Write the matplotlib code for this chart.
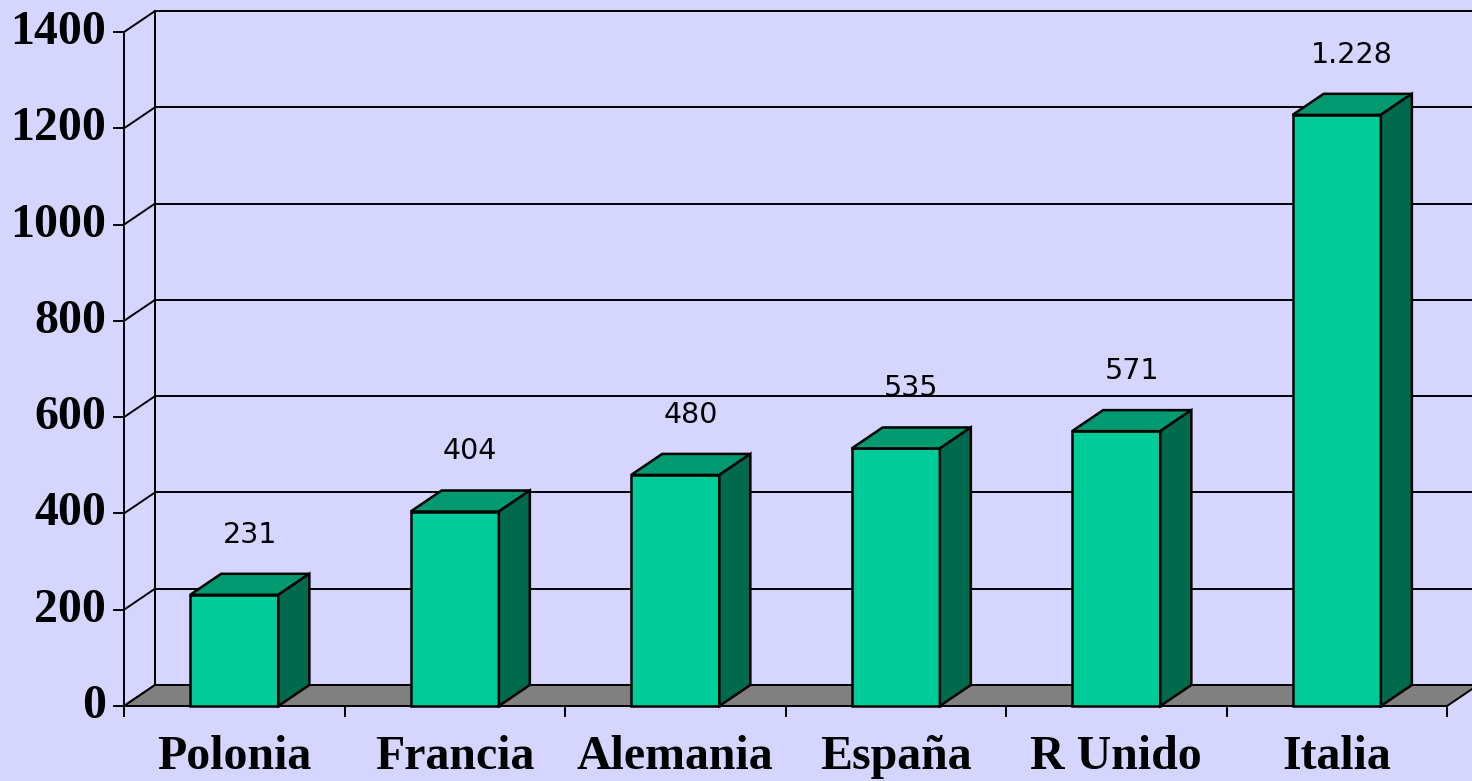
import matplotlib
matplotlib.use('Agg')
import matplotlib.pyplot as plt
from matplotlib.patches import Polygon

# data
countries = ['Polonia', 'Francia', 'Alemania', 'España', 'R Unido', 'Italia']
values = [231, 404, 480, 535, 571, 1228]
yticks = [0, 200, 400, 600, 800, 1000, 1200, 1400]

bg = '#D5D5FF'
c_front = '#00CC99'
c_top = '#009970'
c_side = '#006A4E'
c_floor = '#808080'

# pixel geometry of the front plane (x0 px, px per category, y0 px, px per unit)
W, H = 1472, 781
x0, xs = 124, 220.5
y0, ys = 706, 0.4814
ddx = 31 / xs      # depth offset, category units
ddy = 21 / ys      # depth offset, value units

fig = plt.figure(figsize=(W / 100, H / 100), dpi=100, facecolor=bg)
ax = fig.add_axes([0, 0, 1, 1])
ax.set_facecolor(bg)
ax.set_xlim(-x0 / xs, (W - x0) / xs)
ax.set_ylim((y0 - H) / ys, y0 / ys)
ax.axis('off')

n = len(countries)
lw = 1.4

# back wall gridlines + left wall diagonals + y ticks
for t in yticks:
    if t > 0:
        ax.plot([ddx, n + ddx + 1], [t + ddy, t + ddy], color='black', lw=lw, zorder=1)
    ax.plot([0, ddx], [t, t + ddy], color='black', lw=lw, zorder=1)
    ax.plot([-10 / xs, 0], [t, t], color='black', lw=lw, zorder=1)
    ax.text(-18 / xs, t, str(t), ha='right', va='center', fontsize=34.5,
            fontweight='bold', family='Liberation Serif', zorder=5)

# left wall vertical and front y axis
ax.plot([ddx, ddx], [ddy, yticks[-1] + ddy], color='black', lw=lw, zorder=1)
ax.plot([0, 0], [0, yticks[-1]], color='black', lw=lw, zorder=4)

# floor
floor = Polygon([(0, 0), (n, 0), (n + ddx, ddy), (ddx, ddy)], closed=True,
                facecolor=c_floor, edgecolor='black', lw=lw, zorder=2)
ax.add_patch(floor)

# x ticks and category labels
for i in range(n + 1):
    ax.plot([i, i], [0, -10 / ys], color='black', lw=lw, zorder=4)
for i, c in enumerate(countries):
    ax.text(i + 0.5, -51 / ys, c, ha='center', va='center', fontsize=34.5,
            fontweight='bold', family='Liberation Serif', zorder=5)

# bars
bw = 0.4
for i, v in enumerate(values):
    l, r = i + 0.5 - bw / 2, i + 0.5 + bw / 2
    front = Polygon([(l, 0), (r, 0), (r, v), (l, v)], closed=True,
                    facecolor=c_front, edgecolor='black', lw=1.8, zorder=3)
    top = Polygon([(l, v), (r, v), (r + ddx, v + ddy), (l + ddx, v + ddy)], closed=True,
                  facecolor=c_top, edgecolor='black', lw=1.8, zorder=3)
    side = Polygon([(r, 0), (r + ddx, ddy), (r + ddx, v + ddy), (r, v)], closed=True,
                   facecolor=c_side, edgecolor='black', lw=1.8, zorder=3)
    for p in (front, top, side):
        ax.add_patch(p)
    lab = f'{v:,}'.replace(',', '.')
    ax.text(i + 0.5 + ddx / 2, v + 125, lab, ha='center', va='center',
            fontsize=20.5, family='DejaVu Sans', zorder=5)

fig.savefig('out.png', dpi=100, facecolor=bg)
